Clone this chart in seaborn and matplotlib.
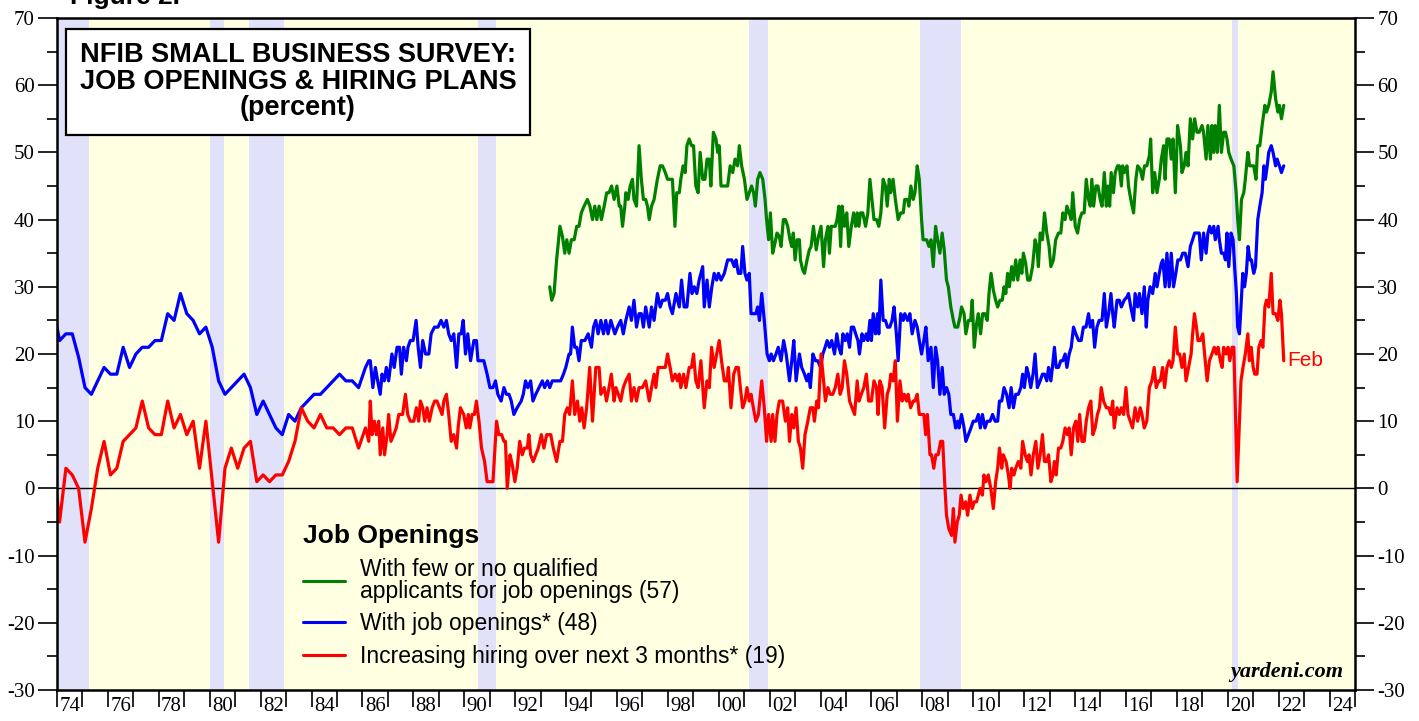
import numpy as np
import pandas as pd
import seaborn as sns
import matplotlib.pyplot as plt
from matplotlib.lines import Line2D
from matplotlib.ticker import MultipleLocator, FixedLocator, FixedFormatter

# ---------------- data (percent) ----------------
# survey was quarterly until 1985
quarter_start = 1973.85
openings_quarterly = [27, 22, 23, 23, 19.5, 15, 14, 16, 18, 17, 17, 21, 18, 20, 21, 21, 22,
                      22, 26, 25, 29, 26, 25, 23, 24, 21, 16, 14, 15, 16, 17, 15, 11,
                      13, 11, 9, 8, 11, 10, 12, 13, 14, 14, 15, 16, 17, 16, 16, 15]
hiring_quarterly = [4, -5, 3, 2, 0, -8, -3, 3, 7, 2, 3, 7, 8, 9, 13, 9, 8,
                    8, 13, 9, 11, 8, 10, 3, 10, 1, -8, 3, 6, 3, 6, 7, 1,
                    2, 1, 2, 2, 4, 7, 12, 10, 9, 11, 9, 9, 8, 9, 9, 6]

# monthly from 1986: (decimal year, value)
openings_86_95 = [
    (1986.12, 18), (1986.25, 19), (1986.31, 19), (1986.41, 15), (1986.51, 18), (1986.60, 16), (1986.70, 14),
    (1986.77, 17), (1986.86, 16), (1986.94, 18), (1987.03, 16), (1987.16, 20), (1987.25, 18), (1987.36, 21),
    (1987.46, 21), (1987.53, 17), (1987.62, 21), (1987.73, 19), (1987.79, 21), (1987.88, 22), (1987.99, 22),
    (1988.11, 25), (1988.19, 21), (1988.28, 18), (1988.37, 22), (1988.48, 20), (1988.61, 20), (1988.70, 23),
    (1988.83, 24), (1988.97, 24), (1989.09, 25), (1989.20, 24), (1989.30, 25), (1989.39, 23), (1989.49, 22),
    (1989.59, 23), (1989.70, 18), (1989.79, 23), (1989.88, 23), (1989.96, 25), (1990.05, 20), (1990.14, 23),
    (1990.25, 19), (1990.38, 22), (1990.48, 22), (1990.54, 19), (1990.77, 19), (1990.90, 17), (1991.01, 15),
    (1991.13, 15), (1991.23, 16), (1991.32, 14), (1991.45, 13), (1991.56, 15), (1991.66, 14), (1991.76, 14),
    (1991.85, 13), (1991.95, 11), (1992.08, 12), (1992.24, 13), (1992.32, 14), (1992.41, 16), (1992.50, 15),
    (1992.61, 16), (1992.70, 13), (1992.81, 14), (1992.94, 15), (1993.07, 16), (1993.16, 15), (1993.27, 16),
    (1993.36, 15), (1993.46, 16), (1993.79, 16), (1993.90, 17), (1993.99, 18), (1994.12, 20), (1994.18, 20),
    (1994.25, 24), (1994.34, 21), (1994.42, 21), (1994.51, 19), (1994.60, 22), (1994.74, 22), (1994.87, 23),
    (1995.00, 21), (1995.08, 24), (1995.17, 25), (1995.26, 23), (1995.37, 25), (1995.47, 23), (1995.56, 25),
    (1995.65, 23), (1995.76, 25), (1995.92, 23), (1996.02, 24),
]
openings_96_05 = [
    (1996.15, 25), (1996.25, 23), (1996.35, 25), (1996.48, 27), (1996.57, 25), (1996.67, 28), (1996.77, 24),
    (1996.87, 26), (1996.96, 26), (1997.04, 24), (1997.13, 27), (1997.27, 24), (1997.36, 27), (1997.46, 25),
    (1997.59, 29), (1997.70, 27), (1997.79, 28), (1997.90, 28), (1997.99, 29), (1998.09, 27), (1998.18, 26),
    (1998.32, 29), (1998.45, 27), (1998.54, 31), (1998.64, 27), (1998.75, 27), (1998.87, 32), (1998.95, 29),
    (1999.04, 30), (1999.14, 29), (1999.23, 31), (1999.37, 33), (1999.43, 27), (1999.54, 31), (1999.63, 27),
    (1999.73, 30), (1999.82, 32), (1999.92, 31), (1999.99, 32), (2000.09, 31), (2000.22, 32), (2000.35, 34),
    (2000.51, 34), (2000.61, 33), (2000.68, 34), (2000.77, 32), (2000.87, 32), (2000.94, 36), (2001.03, 32),
    (2001.11, 31), (2001.20, 32), (2001.27, 26), (2001.36, 26), (2001.46, 26), (2001.53, 27), (2001.60, 25),
    (2001.69, 29), (2001.79, 25), (2001.90, 20), (2001.99, 19), (2002.06, 20), (2002.15, 19), (2002.25, 20),
    (2002.34, 21), (2002.45, 19), (2002.55, 22), (2002.65, 20), (2002.78, 16), (2002.87, 19), (2002.95, 22),
    (2003.04, 16), (2003.17, 20), (2003.26, 18), (2003.37, 17), (2003.46, 16), (2003.53, 17), (2003.60, 15),
    (2003.70, 20), (2003.80, 19), (2003.89, 19), (2004.00, 18), (2004.09, 20), (2004.18, 21), (2004.26, 22),
    (2004.35, 21), (2004.44, 22), (2004.55, 20), (2004.64, 23), (2004.72, 21), (2004.81, 20), (2004.88, 23),
    (2004.97, 22), (2005.05, 23), (2005.14, 21), (2005.21, 24), (2005.30, 24), (2005.38, 23), (2005.47, 22),
    (2005.53, 20), (2005.63, 23), (2005.70, 22), (2005.80, 23), (2005.86, 22), (2005.94, 25),
]
openings_06_15 = [
    (2006.00, 22), (2006.07, 26), (2006.16, 23), (2006.24, 26), (2006.29, 23), (2006.37, 31), (2006.46, 25),
    (2006.55, 25), (2006.63, 24), (2006.72, 24), (2006.81, 25), (2006.89, 27), (2006.98, 23), (2007.05, 19),
    (2007.15, 26), (2007.25, 25), (2007.31, 26), (2007.42, 25), (2007.51, 26), (2007.60, 23), (2007.71, 25),
    (2007.80, 24), (2007.88, 22), (2007.97, 20), (2008.06, 22), (2008.14, 24), (2008.23, 19), (2008.34, 21),
    (2008.43, 15), (2008.52, 21), (2008.60, 19), (2008.69, 14), (2008.78, 18), (2008.86, 14), (2008.95, 15),
    (2009.04, 14), (2009.12, 11), (2009.22, 11), (2009.31, 9), (2009.39, 10), (2009.44, 9), (2009.54, 11),
    (2009.64, 9), (2009.71, 7), (2009.81, 8), (2009.91, 9), (2010.00, 10), (2010.11, 10), (2010.20, 11),
    (2010.28, 9), (2010.36, 11), (2010.46, 9), (2010.55, 10), (2010.66, 10), (2010.76, 11), (2010.86, 10),
    (2010.96, 10), (2011.03, 13), (2011.12, 13), (2011.21, 15), (2011.31, 14), (2011.41, 12), (2011.49, 15),
    (2011.58, 12), (2011.67, 14), (2011.77, 14), (2011.87, 15), (2011.94, 17), (2012.01, 15), (2012.10, 18),
    (2012.17, 17), (2012.26, 15), (2012.35, 17), (2012.43, 20), (2012.52, 15), (2012.63, 16), (2012.72, 17),
    (2012.80, 17), (2012.89, 16), (2012.96, 18), (2013.05, 16), (2013.11, 18), (2013.19, 21), (2013.26, 18),
    (2013.35, 18), (2013.44, 19), (2013.52, 19), (2013.61, 20), (2013.68, 18), (2013.77, 20), (2013.85, 21),
    (2013.94, 24), (2014.03, 23), (2014.14, 22), (2014.24, 22), (2014.33, 24), (2014.43, 24), (2014.53, 26),
    (2014.60, 24), (2014.69, 25), (2014.77, 21), (2014.86, 24), (2014.95, 25), (2015.06, 25), (2015.15, 29),
    (2015.23, 24), (2015.32, 26), (2015.41, 29), (2015.48, 26), (2015.54, 24), (2015.65, 28), (2015.74, 28),
    (2015.82, 27),
]
openings_16_22 = [
    (2015.93, 28), (2016.04, 28.5), (2016.10, 29), (2016.19, 27), (2016.30, 25), (2016.36, 29), (2016.46, 27),
    (2016.53, 29), (2016.63, 26), (2016.72, 30), (2016.80, 24), (2016.86, 28), (2016.95, 30), (2017.05, 29),
    (2017.15, 32), (2017.22, 30), (2017.31, 32), (2017.39, 33.5), (2017.45, 34), (2017.54, 30), (2017.61, 35),
    (2017.70, 30), (2017.78, 35), (2017.87, 30), (2017.96, 32), (2018.04, 34), (2018.14, 34), (2018.23, 35),
    (2018.33, 35), (2018.44, 33), (2018.53, 36), (2018.62, 37), (2018.70, 38), (2018.79, 38), (2018.88, 38),
    (2018.96, 34), (2019.05, 38), (2019.15, 35), (2019.22, 38), (2019.29, 39), (2019.36, 38), (2019.45, 39),
    (2019.51, 37), (2019.62, 39), (2019.67, 37), (2019.75, 35), (2019.84, 35), (2019.91, 34), (2019.97, 38),
    (2020.04, 33), (2020.13, 38), (2020.21, 37), (2020.27, 33), (2020.34, 29), (2020.39, 24), (2020.46, 23),
    (2020.52, 27), (2020.59, 32), (2020.66, 30), (2020.73, 32), (2020.80, 36), (2020.87, 34), (2020.93, 34),
    (2021.02, 32), (2021.09, 33), (2021.18, 40), (2021.26, 42), (2021.35, 44), (2021.42, 48), (2021.48, 46),
    (2021.55, 48), (2021.61, 50), (2021.71, 51), (2021.78, 50), (2021.88, 48), (2021.94, 49), (2022.03, 48),
    (2022.11, 47), (2022.20, 48),
]

hiring_86_95 = [
    (1986.12, 9), (1986.25, 7), (1986.31, 13), (1986.38, 8), (1986.47, 10), (1986.55, 8), (1986.64, 10),
    (1986.70, 5), (1986.80, 9), (1986.87, 5), (1986.97, 8), (1987.03, 11), (1987.12, 7), (1987.23, 8),
    (1987.33, 9), (1987.43, 11), (1987.58, 11), (1987.69, 14), (1987.78, 11), (1987.88, 10), (1988.02, 10),
    (1988.12, 12), (1988.21, 10), (1988.28, 13), (1988.37, 12), (1988.45, 10), (1988.54, 12), (1988.63, 10),
    (1988.74, 12), (1988.84, 13), (1988.93, 13), (1989.03, 12), (1989.13, 11), (1989.20, 13), (1989.30, 14),
    (1989.39, 11), (1989.49, 7), (1989.59, 8), (1989.70, 6), (1989.76, 9), (1989.85, 12), (1989.98, 11),
    (1990.08, 9), (1990.16, 11), (1990.22, 9), (1990.31, 11), (1990.40, 11), (1990.48, 13), (1990.58, 10),
    (1990.68, 6), (1990.80, 4), (1990.90, 1), (1991.01, 1), (1991.13, 1), (1991.27, 10), (1991.36, 8),
    (1991.47, 8), (1991.56, 7), (1991.62, 7), (1991.69, 0), (1991.80, 5), (1991.89, 3.5), (1991.99, 1),
    (1992.08, 3), (1992.18, 7), (1992.28, 5), (1992.37, 6), (1992.48, 6), (1992.54, 8), (1992.61, 5),
    (1992.71, 4), (1992.81, 5), (1992.91, 6), (1993.03, 8), (1993.13, 6), (1993.24, 8), (1993.40, 8),
    (1993.50, 6), (1993.63, 4), (1993.76, 7), (1993.86, 7), (1993.95, 11), (1994.05, 12), (1994.14, 11),
    (1994.25, 16), (1994.34, 11), (1994.45, 13), (1994.54, 10), (1994.62, 12), (1994.71, 9), (1994.81, 12),
    (1994.93, 18), (1995.04, 10), (1995.17, 18), (1995.30, 18), (1995.37, 14), (1995.50, 15), (1995.59, 13),
    (1995.69, 15), (1995.78, 17), (1995.89, 13), (1995.96, 15),
]
hiring_96_05 = [
    (1996.15, 13), (1996.25, 15), (1996.35, 16), (1996.48, 17), (1996.57, 13), (1996.67, 15), (1996.77, 13),
    (1996.87, 15), (1997.00, 15), (1997.13, 16), (1997.27, 13), (1997.36, 15), (1997.46, 17), (1997.53, 15),
    (1997.62, 18), (1997.79, 18), (1997.90, 18), (1997.99, 20), (1998.09, 18), (1998.18, 16), (1998.29, 17),
    (1998.38, 16), (1998.45, 17), (1998.51, 15), (1998.62, 17), (1998.71, 15), (1998.84, 18), (1998.93, 18),
    (1999.01, 20), (1999.10, 16), (1999.19, 15), (1999.30, 19), (1999.43, 12), (1999.54, 16), (1999.63, 15),
    (1999.72, 21), (1999.82, 18), (1999.92, 20), (2000.02, 22), (2000.11, 19), (2000.22, 16), (2000.32, 16),
    (2000.38, 18), (2000.48, 12), (2000.59, 17), (2000.68, 18), (2000.77, 18), (2000.85, 15), (2000.94, 12),
    (2001.03, 13), (2001.11, 15), (2001.20, 13), (2001.27, 14), (2001.36, 12), (2001.46, 10), (2001.56, 11),
    (2001.69, 16), (2001.79, 12), (2001.88, 7), (2001.96, 11), (2002.06, 7), (2002.12, 11), (2002.21, 7),
    (2002.29, 11), (2002.38, 13), (2002.51, 13), (2002.62, 10), (2002.71, 12), (2002.78, 7), (2002.87, 11),
    (2002.95, 9), (2003.04, 12), (2003.13, 7), (2003.21, 6), (2003.30, 3), (2003.39, 8), (2003.50, 10),
    (2003.60, 12), (2003.70, 12), (2003.76, 10), (2003.85, 13), (2003.92, 12), (2004.02, 20), (2004.12, 16),
    (2004.19, 13), (2004.29, 15), (2004.38, 14), (2004.48, 14), (2004.58, 15), (2004.68, 17), (2004.77, 14),
    (2004.85, 15), (2004.94, 19), (2005.03, 17), (2005.14, 13), (2005.24, 12), (2005.34, 11), (2005.44, 16),
    (2005.51, 13), (2005.60, 14), (2005.70, 15), (2005.80, 17), (2005.89, 13),
]
hiring_06_15 = [
    (2006.00, 13), (2006.10, 16), (2006.20, 15), (2006.26, 11), (2006.33, 16), (2006.42, 15), (2006.52, 9),
    (2006.62, 14), (2006.70, 15), (2006.76, 17), (2006.85, 16), (2006.94, 19), (2007.02, 10), (2007.12, 16),
    (2007.21, 13), (2007.29, 14), (2007.38, 13), (2007.44, 14), (2007.54, 12), (2007.64, 13), (2007.71, 13),
    (2007.80, 14), (2007.88, 11), (2007.97, 11), (2008.06, 11), (2008.13, 8), (2008.20, 11), (2008.30, 5),
    (2008.36, 5), (2008.45, 3), (2008.53, 5), (2008.62, 5), (2008.72, 7), (2008.80, 7), (2008.89, 0),
    (2008.95, -4), (2009.04, -6), (2009.15, -7), (2009.22, -3), (2009.28, -8), (2009.37, -5), (2009.45, -4),
    (2009.52, -1), (2009.61, -3), (2009.70, -2), (2009.78, -4), (2009.87, -1), (2009.96, -3), (2010.04, -2),
    (2010.13, -2), (2010.20, -1), (2010.27, 0), (2010.36, -1), (2010.42, 2), (2010.50, 1), (2010.59, 2),
    (2010.69, 0), (2010.79, -3), (2010.88, 1), (2010.96, 3), (2011.03, 6), (2011.12, 3), (2011.18, 5),
    (2011.29, 4), (2011.38, 2), (2011.45, 0), (2011.51, 3), (2011.60, 2), (2011.67, 3), (2011.77, 4),
    (2011.87, 3), (2011.94, 7), (2012.04, 5), (2012.13, 4), (2012.19, 5), (2012.27, 2), (2012.36, 5),
    (2012.46, 7), (2012.54, 3), (2012.63, 5), (2012.72, 8), (2012.80, 4), (2012.89, 4), (2012.96, 5),
    (2013.05, 1), (2013.13, 2), (2013.19, 4), (2013.26, 2), (2013.35, 6), (2013.44, 6), (2013.52, 7),
    (2013.61, 9), (2013.70, 8), (2013.77, 9), (2013.85, 5), (2013.94, 9), (2014.03, 10), (2014.11, 7),
    (2014.18, 11), (2014.27, 7), (2014.36, 7), (2014.44, 10), (2014.53, 12), (2014.62, 13), (2014.70, 8),
    (2014.79, 9), (2014.88, 11), (2014.96, 12), (2015.03, 15), (2015.12, 13), (2015.23, 12), (2015.32, 12),
    (2015.41, 11), (2015.48, 13), (2015.54, 9), (2015.65, 12), (2015.74, 11), (2015.82, 12),
]
hiring_16_22 = [
    (2015.91, 11), (2016.00, 15), (2016.08, 11), (2016.17, 10), (2016.26, 9), (2016.36, 12), (2016.46, 10),
    (2016.56, 12), (2016.63, 11), (2016.72, 9), (2016.82, 10), (2016.92, 15), (2017.02, 16), (2017.11, 18),
    (2017.19, 15), (2017.28, 16), (2017.35, 16), (2017.44, 18), (2017.52, 15), (2017.61, 18), (2017.70, 19),
    (2017.78, 18), (2017.85, 19), (2017.94, 24), (2018.03, 20), (2018.11, 20), (2018.20, 18), (2018.29, 20),
    (2018.36, 16), (2018.46, 18), (2018.56, 20), (2018.62, 23), (2018.69, 26), (2018.77, 24), (2018.83, 22),
    (2018.92, 22), (2019.02, 23), (2019.09, 20), (2019.19, 16), (2019.28, 19), (2019.38, 20), (2019.47, 21),
    (2019.55, 20), (2019.62, 21), (2019.71, 19), (2019.78, 18), (2019.84, 21), (2019.93, 20), (2020.01, 21),
    (2020.08, 19), (2020.17, 21), (2020.24, 21), (2020.30, 12), (2020.37, 1), (2020.43, 7), (2020.52, 16),
    (2020.60, 18), (2020.69, 20), (2020.79, 23), (2020.85, 19), (2020.92, 21), (2021.00, 18), (2021.06, 17),
    (2021.15, 17), (2021.22, 21), (2021.31, 22), (2021.38, 21), (2021.46, 27), (2021.52, 28), (2021.61, 27),
    (2021.71, 32), (2021.78, 26), (2021.88, 26), (2021.97, 25), (2022.05, 28), (2022.11, 26), (2022.20, 19),
]

qualified_93_95 = [
    (1993.36, 30), (1993.44, 28), (1993.53, 29), (1993.63, 34), (1993.76, 39), (1993.86, 37.5), (1993.95, 35),
    (1994.03, 37), (1994.12, 35), (1994.21, 37), (1994.32, 37), (1994.42, 39), (1994.51, 39), (1994.60, 41),
    (1994.71, 42), (1994.84, 43), (1994.94, 42), (1995.04, 40), (1995.13, 42), (1995.21, 40), (1995.30, 42),
    (1995.39, 40), (1995.50, 42), (1995.60, 44), (1995.69, 44), (1995.79, 45), (1995.89, 43), (1996.00, 45),
    (1996.09, 42),
]
qualified_96_05 = [
    (1996.15, 42), (1996.22, 39), (1996.31, 42), (1996.35, 44), (1996.44, 43), (1996.52, 45), (1996.61, 46),
    (1996.67, 43), (1996.77, 42), (1996.87, 51), (1996.96, 46), (1997.04, 43), (1997.13, 43), (1997.20, 42),
    (1997.27, 40), (1997.36, 42), (1997.46, 43), (1997.59, 46), (1997.70, 48), (1997.79, 48), (1997.90, 47),
    (1997.99, 46), (1998.18, 46), (1998.28, 39), (1998.35, 44), (1998.45, 44), (1998.51, 46), (1998.60, 48),
    (1998.68, 47), (1998.75, 51), (1998.84, 52), (1998.93, 51), (1999.01, 51), (1999.10, 45), (1999.19, 44),
    (1999.27, 50), (1999.37, 46), (1999.46, 46), (1999.54, 49), (1999.63, 49), (1999.69, 45), (1999.79, 53),
    (1999.89, 52), (1999.96, 50), (2000.02, 51), (2000.09, 45), (2000.22, 45), (2000.35, 45), (2000.45, 48),
    (2000.55, 47), (2000.64, 49), (2000.74, 48), (2000.81, 51), (2000.90, 48), (2001.01, 46), (2001.11, 43),
    (2001.20, 44), (2001.29, 45), (2001.37, 44), (2001.44, 42), (2001.53, 46), (2001.62, 47), (2001.73, 46),
    (2001.82, 43), (2001.88, 40), (2001.96, 37), (2002.03, 41), (2002.12, 35), (2002.21, 36.5), (2002.29, 38),
    (2002.38, 37.5), (2002.45, 36), (2002.54, 40), (2002.62, 40), (2002.71, 39), (2002.80, 37), (2002.87, 36),
    (2002.93, 38), (2003.00, 34), (2003.08, 37), (2003.17, 37), (2003.21, 34), (2003.30, 32.5), (2003.37, 32),
    (2003.47, 34), (2003.56, 35.5), (2003.63, 36), (2003.72, 39), (2003.83, 35.5), (2003.92, 37.5), (2004.02, 39),
    (2004.12, 33), (2004.19, 37), (2004.29, 39), (2004.35, 35), (2004.42, 39), (2004.51, 39), (2004.58, 39),
    (2004.65, 40), (2004.72, 42), (2004.79, 36), (2004.85, 42), (2004.94, 39), (2005.03, 41), (2005.11, 36),
    (2005.21, 39), (2005.30, 41), (2005.38, 39), (2005.44, 41), (2005.51, 39), (2005.57, 41), (2005.66, 41),
    (2005.77, 39), (2005.86, 41), (2005.94, 46),
]
qualified_06_15 = [
    (2006.10, 40), (2006.20, 40), (2006.29, 39), (2006.37, 41), (2006.46, 46), (2006.55, 45), (2006.62, 42),
    (2006.70, 46), (2006.76, 44), (2006.85, 46), (2006.94, 43), (2007.05, 40), (2007.15, 41), (2007.25, 41),
    (2007.31, 43), (2007.42, 43), (2007.47, 42), (2007.55, 45), (2007.64, 43), (2007.71, 44), (2007.80, 48),
    (2007.88, 46), (2007.97, 40), (2008.03, 37), (2008.17, 37), (2008.26, 36), (2008.34, 37), (2008.43, 33),
    (2008.52, 39), (2008.60, 37), (2008.69, 35), (2008.78, 38), (2008.86, 35.5), (2008.95, 31), (2009.02, 30),
    (2009.12, 27), (2009.22, 25), (2009.28, 24), (2009.39, 24), (2009.48, 25.5), (2009.54, 27), (2009.64, 26),
    (2009.71, 23), (2009.81, 25), (2009.90, 25), (2009.96, 28), (2010.04, 21), (2010.13, 24.5), (2010.20, 26),
    (2010.29, 23), (2010.37, 26), (2010.46, 26), (2010.55, 25), (2010.62, 29), (2010.70, 32), (2010.79, 29.5),
    (2010.88, 28), (2010.96, 27), (2011.05, 28), (2011.14, 28), (2011.21, 30), (2011.28, 29), (2011.35, 32),
    (2011.42, 30), (2011.51, 33), (2011.58, 31), (2011.67, 34), (2011.75, 31), (2011.84, 34), (2011.91, 32),
    (2011.97, 35), (2012.06, 33.5), (2012.14, 31), (2012.23, 31), (2012.33, 33), (2012.43, 37), (2012.50, 36),
    (2012.56, 33), (2012.63, 38), (2012.72, 37), (2012.80, 41), (2012.89, 38), (2012.98, 36), (2013.05, 33),
    (2013.15, 34), (2013.24, 37), (2013.35, 38), (2013.44, 38), (2013.52, 41), (2013.61, 40), (2013.68, 42),
    (2013.77, 41), (2013.85, 40), (2013.91, 44), (2014.01, 39), (2014.10, 38), (2014.18, 40), (2014.27, 41),
    (2014.36, 41), (2014.44, 46), (2014.53, 43), (2014.60, 42), (2014.66, 46), (2014.73, 42), (2014.82, 45),
    (2014.90, 45), (2014.99, 43), (2015.06, 42), (2015.15, 47), (2015.23, 42), (2015.29, 45), (2015.36, 42),
    (2015.42, 47), (2015.51, 44), (2015.58, 47), (2015.67, 48), (2015.74, 48), (2015.82, 45),
]
qualified_16_22 = [
    (2015.87, 48), (2015.94, 47), (2016.04, 48), (2016.10, 45), (2016.19, 43), (2016.30, 41), (2016.39, 46),
    (2016.46, 48), (2016.56, 47.5), (2016.65, 46), (2016.73, 48), (2016.82, 48), (2016.92, 49.5), (2016.97, 52),
    (2017.05, 44), (2017.13, 47), (2017.22, 44), (2017.31, 46), (2017.39, 49), (2017.48, 51), (2017.54, 46),
    (2017.61, 52), (2017.70, 52), (2017.78, 49), (2017.85, 52), (2017.94, 44), (2018.03, 54), (2018.14, 51),
    (2018.20, 47), (2018.29, 48), (2018.36, 50), (2018.44, 48), (2018.53, 55), (2018.62, 52), (2018.70, 55),
    (2018.79, 53), (2018.88, 53), (2018.99, 54), (2019.05, 53), (2019.15, 49), (2019.22, 54), (2019.32, 49),
    (2019.38, 54), (2019.45, 50), (2019.51, 54), (2019.59, 50), (2019.67, 57), (2019.75, 50), (2019.84, 53),
    (2019.91, 53), (2019.97, 52), (2020.04, 50), (2020.13, 49), (2020.24, 48), (2020.33, 44), (2020.39, 40),
    (2020.46, 37), (2020.54, 43), (2020.63, 44), (2020.69, 46), (2020.79, 50), (2020.86, 48), (2020.93, 48),
    (2021.02, 48), (2021.11, 46), (2021.18, 51), (2021.26, 51), (2021.35, 54), (2021.46, 57), (2021.52, 56),
    (2021.61, 57), (2021.71, 59), (2021.78, 62), (2021.88, 58), (2021.97, 56), (2022.03, 57), (2022.11, 55),
    (2022.20, 57),
]

recession_start = [1973.85, 1980.00, 1981.55, 1990.54, 2001.17, 2007.92, 2020.17]
recession_end = [1975.25, 1980.58, 1982.92, 1991.25, 2001.92, 2009.50, 2020.40]

year_labels = ["74", "76", "78", "80", "82", "84", "86", "88", "90", "92", "94", "96", "98",
               "00", "02", "04", "06", "08", "10", "12", "14", "16", "18", "20", "22", "24"]

series_keys = ["qualified", "openings", "hiring"]
series_labels = ["With few or no qualified\napplicants for job openings (57)",
                 "With job openings* (48)",
                 "Increasing hiring over next 3 months* (19)"]
series_colors = ["#008000", "#0000ff", "#ff0000"]


def to_frame(points, key):
    t, v = zip(*points)
    return pd.DataFrame({"date": t, "value": v, "series": key})


q_dates = quarter_start + 0.25 * np.arange(len(openings_quarterly))
df = pd.concat([
    to_frame(qualified_93_95 + qualified_96_05 + qualified_06_15 + qualified_16_22, "qualified"),
    pd.DataFrame({"date": q_dates, "value": openings_quarterly, "series": "openings"}),
    to_frame(openings_86_95 + openings_96_05 + openings_06_15 + openings_16_22, "openings"),
    pd.DataFrame({"date": q_dates, "value": hiring_quarterly, "series": "hiring"}),
    to_frame(hiring_86_95 + hiring_96_05 + hiring_06_15 + hiring_16_22, "hiring"),
], ignore_index=True)

# ---------------- plot ----------------
sns.set_style("ticks")
plt.rcParams["font.family"] = ["Liberation Sans", "DejaVu Sans"]
plt.rcParams["text.color"] = "black"
plt.rcParams["axes.unicode_minus"] = False

fig = plt.figure(figsize=(14.19, 7.21), dpi=100)
ax = fig.add_axes([57 / 1419, 31 / 721, 1298 / 1419, 672 / 721])
ax.set_facecolor("#ffffe1")

for s, e in zip(recession_start, recession_end):
    ax.axvspan(s, e, color="#e1e1fa", lw=0, zorder=0.5)
ax.axhline(0, color="black", lw=1.0, zorder=1.5)

sns.lineplot(data=df, x="date", y="value", hue="series", hue_order=series_keys,
             palette=dict(zip(series_keys, series_colors)), estimator=None,
             linewidth=2.3, legend=False, ax=ax)

ax.set_xlim(1974, 2025)
ax.set_ylim(-30, 70)
ax.set_xlabel("")
ax.set_ylabel("")

# year ticks, labels sit in the middle of even years
ax.xaxis.set_major_locator(MultipleLocator(1))
ax.xaxis.set_minor_locator(FixedLocator(np.arange(1974.5, 2025, 2)))
ax.xaxis.set_minor_formatter(FixedFormatter(year_labels))
ax.tick_params(axis="x", which="major", direction="out", length=12, width=1.2, labelbottom=False)
ax.tick_params(axis="x", which="minor", length=0, pad=5, labelsize=15)

ax.yaxis.set_major_locator(MultipleLocator(10))
ax.yaxis.set_minor_locator(MultipleLocator(5))
ax.tick_params(axis="y", which="both", left=True, right=True, labelleft=True, labelright=True,
               direction="out")
ax.tick_params(axis="y", which="major", length=14, width=1.2, labelsize=15, pad=2)
ax.tick_params(axis="y", which="minor", length=7, width=1.2)
ax.tick_params(which="both", labelfontfamily="Liberation Serif", colors="black")

for side in ["top", "bottom", "left", "right"]:
    ax.spines[side].set_visible(True)
    ax.spines[side].set_linewidth(1.8)
    ax.spines[side].set_color("black")

# title box
ax.text(0.1857, 0.905, "NFIB SMALL BUSINESS SURVEY:\nJOB OPENINGS & HIRING PLANS\n(percent)",
        transform=ax.transAxes, ha="center", va="center", fontsize=19.5, fontweight="bold",
        linespacing=1.02, zorder=5,
        bbox=dict(boxstyle="square,pad=0.5", fc="white", ec="black", lw=1.6))

# legend
handles = [Line2D([], [], color=c, lw=2.2) for c in series_colors]
leg = ax.legend(handles, series_labels, title="Job Openings", loc="upper left",
                bbox_to_anchor=(0.1895, 0.247), frameon=False, fontsize=16.5,
                title_fontproperties={"weight": "bold", "size": 19}, alignment="left",
                handlelength=1.85, handletextpad=0.65, labelspacing=0.42,
                borderpad=0, borderaxespad=0)
for t in leg.get_texts():
    t.set_linespacing(0.95)
    t.set_color("black")
leg.get_title().set_color("black")

ax.text(2022.35, 19, "Feb", color="#ff0000", fontsize=15, va="center", ha="left")
ax.text(0.991, 0.012, "yardeni.com", transform=ax.transAxes, ha="right", va="bottom",
        fontsize=16, fontweight="bold", fontstyle="italic", family="Liberation Serif")
fig.text(0.049, 0.994, "Figure 2.", fontsize=19, fontweight="bold", va="baseline", ha="left")

fig.savefig("out.png", dpi=100)
